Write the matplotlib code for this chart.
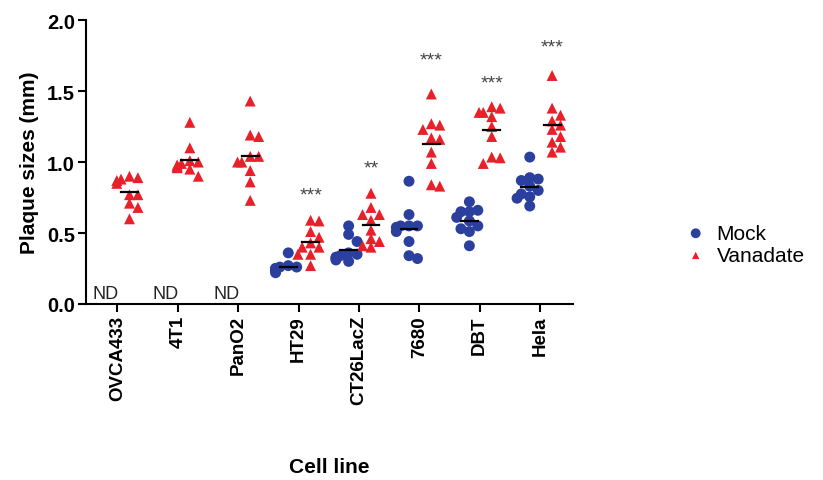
import numpy as np
import matplotlib
matplotlib.use("Agg")
from matplotlib import pyplot as plt

plt.rcParams['font.family'] = ['Liberation Sans', 'DejaVu Sans']

cell_lines = ['OVCA433', '4T1', 'PanO2', 'HT29', 'CT26LacZ', '7680', 'DBT', 'Hela']

# Mock values (ND = not detected for first three)
mock = {
  'HT29': [0.36, 0.27, 0.26, 0.25, 0.24, 0.23, 0.22, 0.25, 0.26, 0.24],
  'CT26LacZ': [0.55, 0.49, 0.44, 0.36, 0.35, 0.34, 0.33, 0.32, 0.31, 0.30],
  '7680': [0.865, 0.63, 0.55, 0.55, 0.54, 0.55, 0.51, 0.44, 0.34, 0.32],
  'DBT': [0.72, 0.65, 0.66, 0.65, 0.61, 0.585, 0.55, 0.53, 0.51, 0.41],
  'Hela': [1.035, 0.89, 0.88, 0.87, 0.83, 0.80, 0.775, 0.755, 0.745, 0.69],
}

vanadate = {
  'OVCA433': [0.89, 0.90, 0.87, 0.85, 0.88, 0.77, 0.77, 0.71, 0.68, 0.60],
  '4T1': [1.28, 1.10, 1.00, 0.98, 0.97, 0.99, 0.96, 0.95, 1.01, 0.90],
  'PanO2': [1.43, 1.18, 1.19, 1.04, 1.04, 1.00, 1.00, 0.94, 0.86, 0.73],
  'HT29': [0.585, 0.59, 0.51, 0.47, 0.43, 0.40, 0.40, 0.35, 0.35, 0.27],
  'CT26LacZ': [0.78, 0.68, 0.63, 0.63, 0.59, 0.52, 0.46, 0.44, 0.41, 0.40],
  '7680': [1.48, 1.27, 1.26, 1.23, 1.17, 1.16, 1.07, 0.99, 0.83, 0.84],
  'DBT': [1.39, 1.38, 1.35, 1.35, 1.32, 1.25, 1.18, 1.035, 1.03, 0.99],
  'Hela': [1.61, 1.38, 1.33, 1.29, 1.26, 1.23, 1.18, 1.14, 1.105, 1.07],
}

nd_lines = ['OVCA433', '4T1', 'PanO2']
stars = {'HT29': ('***', 0.77), 'CT26LacZ': ('**', 0.96), '7680': ('***', 1.72),
         'DBT': ('***', 1.56), 'Hela': ('***', 1.81)}

blue = '#2B3F9E'
red = '#E8202A'


def swarm(values, dx=0.14, dy=0.06):
  # simple deterministic beeswarm offsets
  order = np.argsort(values)[::-1]
  placed = []
  offs = np.zeros(len(values))
  for i in order:
    v = values[i]
    for k in [0, 1, -1, 2, -2, 3, -3]:
      o = k * dx * 0.5
      ok = True
      for (pv, po) in placed:
        if abs(pv - v) < dy and abs(po - o) < dx * 0.9:
          ok = False
          break
      if ok:
        break
    offs[i] = o
    placed.append((v, o))
  return offs


fig = plt.figure(figsize=(8.23, 4.81), dpi=100)
ax = fig.add_axes([0.1045, 0.366, 0.592, 0.590])

x = np.arange(len(cell_lines))
for i, name in enumerate(cell_lines):
  if name in mock:
    vals = np.array(mock[name])
    ax.scatter(i - 0.17 + swarm(vals), vals, s=62, marker='o', color=blue,
               edgecolors='none', zorder=3)
    ax.plot([i - 0.31, i - 0.03], [vals.mean()] * 2, color='black', lw=1.6, zorder=4)
  vals = np.array(vanadate[name])
  ax.scatter(i + 0.2 + swarm(vals), vals, s=62, marker='^', color=red,
             edgecolors='none', zorder=3)
  ax.plot([i + 0.06, i + 0.34], [vals.mean()] * 2, color='black', lw=1.6, zorder=4)
  if name in nd_lines:
    ax.text(i - 0.2, 0.012, 'ND', ha='center', va='bottom', fontsize=13, color='#222222')
  if name in stars:
    ax.text(i + 0.2, stars[name][1], stars[name][0], ha='center', va='center',
            fontsize=14, color='#444444')

ax.set_xlim(-0.52, 7.55)
ax.set_ylim(0, 2.0)
ax.set_xticks(x)
ax.set_xticklabels(cell_lines, rotation=90, fontsize=13.5, fontweight='bold')
ax.set_yticks([0.0, 0.5, 1.0, 1.5, 2.0])
ax.set_yticklabels(['0.0', '0.5', '1.0', '1.5', '2.0'], fontsize=14.5, fontweight='bold')
ax.tick_params(direction='out', length=6, width=1.5, pad=2)
for s in ['top', 'right']:
  ax.spines[s].set_visible(False)
for s in ['left', 'bottom']:
  ax.spines[s].set_linewidth(1.5)
ax.set_ylabel('Plaque sizes (mm)', fontsize=15, fontweight='bold', labelpad=6)
ax.set_xlabel('Cell line', fontsize=15, fontweight='bold', labelpad=38)

h1 = ax.scatter([], [], s=50, marker='o', color=blue, edgecolors='none')
h2 = ax.scatter([], [], s=28, marker='^', color=red, edgecolors='none')
fig.legend([h1, h2], ['Mock', 'Vanadate'], loc='center left',
           bbox_to_anchor=(0.82, 0.49), frameon=False, fontsize=15,
           handletextpad=0.5, labelspacing=0.15, borderpad=0, handlelength=1.0)

fig.savefig('out.png', dpi=100)
